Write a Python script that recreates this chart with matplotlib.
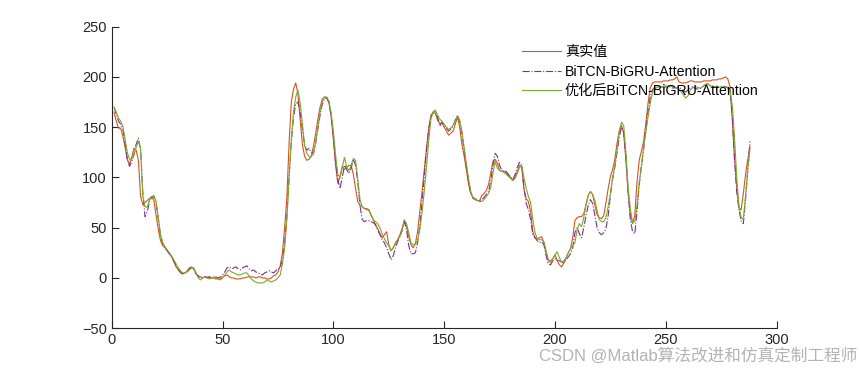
import numpy as np
import matplotlib
matplotlib.use('Agg')
import matplotlib.pyplot as plt

# 真实值
y_true = [165, 156, 149, 149, 141, 130, 118, 113, 120, 129, 127, 117, 81, 73, 75, 77, 79, 81, 77, 62,
          48, 37, 32, 30, 27, 24, 21, 16, 11, 8, 5, 4, 5, 7, 10, 11, 9, 4, 2, 1,
          0, 1, 1, 1, 0, 0, -1, -1, -1, 1, 2, 3, 1, 0, 0, -1, -1, -1, 0, 0,
          1, 1, 1, 1, 0, 1, 1, 0, 0, -1, -1, 0, 2, 3, 6, 12, 25, 50, 80, 134,
          175, 188, 194, 183, 158, 133, 121, 117, 118, 121, 131, 144, 158, 170, 178, 180, 179, 174, 160, 138,
          112, 94, 101, 111, 108, 110, 112, 112, 103, 89, 76, 72, 71, 69, 69, 68, 63, 58, 53, 49,
          44, 40, 43, 46, 33, 27, 30, 35, 38, 43, 49, 57, 52, 41, 33, 30, 34, 46, 66, 86,
          108, 129, 148, 162, 164, 164, 157, 154, 154, 150, 146, 142, 144, 146, 153, 160, 150, 133, 121, 108,
          93, 84, 80, 79, 77, 77, 82, 84, 87, 93, 104, 116, 118, 114, 107, 106, 106, 104, 102, 100,
          97, 100, 106, 112, 111, 88, 79, 76, 66, 46, 40, 39, 40, 41, 35, 25, 17, 17, 19, 23,
          17, 13, 11, 15, 20, 25, 29, 40, 57, 60, 61, 61, 64, 73, 82, 86, 83, 72, 63, 60,
          59, 62, 75, 89, 101, 108, 118, 134, 146, 152, 144, 117, 86, 63, 54, 62, 95, 117, 126, 136,
          154, 174, 189, 194, 195, 195, 195, 195, 196, 196, 196, 197, 197, 198, 200, 195, 194, 194, 194, 195,
          196, 196, 195, 195, 195, 195, 196, 196, 196, 196, 197, 197, 197, 198, 198, 199, 200, 198, 190, 158,
          120, 92, 70, 68, 84, 103, 118, 131]

# BiTCN-BiGRU-Attention
y_base = [170, 163, 156, 153, 148, 134, 118, 111, 116, 123, 133, 139, 127, 85, 61, 66, 76, 80, 81, 74,
          58, 42, 34, 30, 27, 24, 21, 17, 13, 9, 6, 4, 5, 6, 9, 10, 9, 4, 2, 0,
          1, 1, 0, 1, 1, 0, 1, 0, 1, 3, 6, 10, 11, 9, 10, 11, 9, 8, 10, 11,
          12, 9, 7, 8, 6, 5, 4, 3, 5, 6, 7, 6, 5, 7, 9, 10, 18, 35, 62, 100,
          135, 160, 173, 175, 165, 148, 132, 127, 129, 125, 124, 134, 148, 162, 173, 178, 179, 175, 162, 140,
          115, 98, 89, 100, 112, 108, 104, 109, 118, 112, 95, 72, 58, 56, 57, 57, 56, 55, 53, 48,
          43, 38, 35, 30, 24, 18, 22, 30, 36, 41, 47, 56, 48, 32, 24, 24, 25, 35, 52, 75,
          100, 126, 148, 160, 165, 166, 160, 151, 155, 152, 149, 146, 148, 151, 157, 162, 156, 143, 127, 110,
          96, 84, 79, 78, 77, 77, 78, 80, 83, 86, 96, 112, 124, 121, 112, 107, 106, 106, 103, 100,
          98, 103, 110, 115, 112, 90, 74, 68, 58, 43, 40, 37, 35, 36, 33, 22, 14, 13, 17, 19,
          18, 17, 16, 15, 18, 21, 24, 30, 45, 50, 44, 40, 50, 62, 72, 78, 74, 62, 50, 45,
          43, 45, 49, 62, 82, 98, 110, 125, 140, 150, 145, 120, 85, 58, 46, 44, 65, 92, 112, 128,
          148, 165, 180, 187, 190, 190, 190, 190, 190, 190, 190, 190, 189, 189, 189, 190, 188, 186, 185, 187,
          189, 190, 189, 188, 188, 189, 191, 192, 193, 192, 190, 190, 189, 190, 190, 191, 190, 189, 185, 162,
          118, 86, 68, 57, 54, 78, 107, 136]

# 优化后BiTCN-BiGRU-Attention
y_opt = [170, 165, 159, 156, 151, 138, 125, 118, 118, 122, 130, 136, 129, 81, 71, 70, 78, 81, 82, 76,
         60, 43, 35, 31, 28, 25, 22, 18, 14, 10, 7, 5, 5, 6, 8, 10, 10, 5, 0, -2,
         0, 1, 0, -1, 0, 1, 0, -1, -2, 0, 3, 6, 8, 6, 5, 4, 3, 3, 4, 5,
         5, 2, -1, -3, -4, -5, -5, -5, -4, -2, -3, -4, -3, -2, 0, 3, 14, 30, 58, 98,
         138, 165, 180, 187, 174, 154, 132, 124, 121, 121, 123, 135, 150, 165, 176, 180, 180, 176, 164, 146,
         122, 103, 100, 110, 120, 110, 107, 112, 119, 117, 99, 78, 71, 69, 68, 67, 62, 58, 56, 54,
         50, 44, 39, 35, 32, 27, 30, 34, 38, 41, 47, 58, 54, 45, 35, 33, 34, 37, 48, 65,
         86, 110, 136, 158, 165, 167, 162, 158, 156, 153, 150, 148, 149, 152, 156, 161, 157, 146, 130, 114,
         99, 86, 80, 78, 77, 76, 76, 78, 81, 84, 90, 104, 116, 109, 107, 106, 105, 103, 101, 99,
         97, 99, 104, 110, 111, 100, 89, 81, 75, 58, 45, 39, 38, 38, 36, 27, 18, 15, 19, 23,
         26, 20, 16, 17, 20, 25, 29, 32, 35, 48, 54, 51, 60, 73, 82, 86, 83, 77, 67, 58,
         56, 56, 60, 71, 84, 100, 112, 128, 146, 155, 152, 125, 90, 69, 55, 56, 72, 95, 110, 130,
         145, 160, 174, 184, 188, 190, 190, 190, 191, 191, 191, 191, 190, 190, 189, 188, 185, 182, 179, 181,
         187, 189, 190, 190, 189, 189, 191, 193, 193, 191, 190, 190, 190, 190, 190, 190, 190, 190, 186, 172,
         141, 100, 72, 60, 58, 82, 108, 128]

labels = ['真实值', 'BiTCN-BiGRU-Attention', '优化后BiTCN-BiGRU-Attention']

x = np.arange(1, len(y_true) + 1)

fig = plt.figure(figsize=(8.6, 3.7), dpi=100)
ax = fig.add_axes([0.13, 0.113, 0.773, 0.815])

ax.plot(x, y_true, '-', color='#D95319', lw=0.8, label=labels[0])
ax.plot(x, y_base, '-.', color='#7E2F8E', lw=0.8, label=labels[1])
ax.plot(x, y_opt, '-', color='#77AC30', lw=0.8, label=labels[2])

ax.set_xlim(0, 300)
ax.set_ylim(-50, 250)
ax.set_xticks(np.arange(0, 301, 50))
ax.set_yticks(np.arange(-50, 251, 50))
ax.tick_params(direction='in', length=5, width=0.8, colors='#262626', labelsize=10.5)
ax.spines['top'].set_visible(False)
ax.spines['right'].set_visible(False)
for s in ['left', 'bottom']:
    ax.spines[s].set_color('#262626')
    ax.spines[s].set_linewidth(0.8)
for lab in ax.get_xticklabels() + ax.get_yticklabels():
    lab.set_family(['Liberation Sans', 'DejaVu Sans'])

leg = fig.legend(loc='upper left', bbox_to_anchor=(522 / 860, 1 - 45 / 370),
                 frameon=False, borderpad=0, borderaxespad=0,
                 handlelength=2.75, handletextpad=0.28, labelspacing=0.4,
                 prop={'family': ['Liberation Sans', 'Noto Sans CJK SC'], 'size': 10.2})

fig.text(0.997, 0.04, 'CSDN @Matlab算法改进和仿真定制工程师', ha='right', va='center',
         fontsize=12, color='#a0a0a0', alpha=0.8,
         family=['Liberation Sans', 'Noto Sans CJK SC'])

fig.savefig('out.png', dpi=100)
